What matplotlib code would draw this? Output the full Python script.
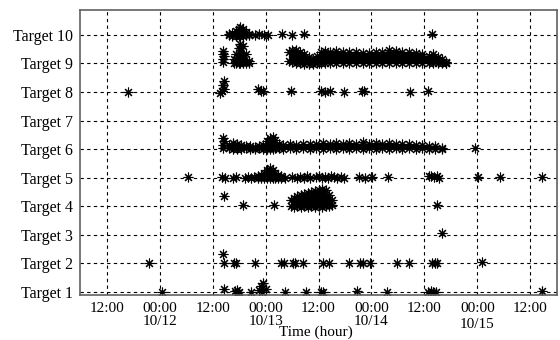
import matplotlib
matplotlib.use("Agg")
import matplotlib.pyplot as plt

plt.rcParams['font.family'] = ['Liberation Serif', 'DejaVu Serif']

# hours counted from 00:00 on 10/12
target_labels = [f"Target {i}" for i in range(1, 11)]
tick_hours = [-12, 0, 12, 24, 36, 48, 60, 72, 84]
tick_labels = ["12:00", "00:00\n10/12", "12:00", "00:00\n10/13", "12:00",
               "00:00\n10/14", "12:00", "00:00\n10/15", "12:00"]

# single detections (hour, plotted level)
t10_hours = [21.7, 22.6, 23.6, 24.5, 27.8, 29.9, 32.6, 61.8]
t10_levels = [10.0, 10.02, 10.0, 10.0, 10.02, 10.0, 10.02, 10.05]
t9_hours = [14.4, 14.3, 14.5, 14.4, 14.3, 61.8, 62.6, 64.8]
t9_levels = [9.05, 9.15, 9.25, 9.35, 9.45, 9.2, 9.1, 9.02]
t8_hours = [-7.2, 13.6, 14.2, 14.6, 14.3, 14.5, 22.2, 23.0, 23.5, 29.7, 36.5,
            37.4, 38.7, 41.7, 45.9, 46.4, 56.8, 60.9]
t8_levels = [8.0, 7.98, 8.05, 8.1, 8.25, 8.38, 8.1, 8.05, 8.02, 8.02, 8.02,
             8.0, 8.02, 8.0, 8.02, 8.02, 8.0, 8.05]
t6_hours = [14.4, 14.3, 14.5, 14.4, 71.5]
t6_levels = [6.05, 6.15, 6.28, 6.38, 6.05]
t5_hours = [6.3, 14.1, 14.7, 16.5, 17.2, 19.3, 20.0, 20.7, 21.4, 28.5, 29.9,
            31.2, 31.9, 32.6, 33.3, 34.0, 35.4, 36.1, 36.8, 37.5, 38.2, 38.9,
            39.6, 40.3, 41.0, 41.7, 45.1, 46.6, 48.2, 51.8, 61.0, 61.6, 62.2,
            62.8, 63.4, 72.2, 77.2, 86.7]
t5_levels = [5.02, 5.02, 5.0, 5.0, 5.02, 5.0, 5.02, 5.0, 5.02, 5.0, 5.02,
             5.0, 5.03, 5.0, 5.04, 5.0, 5.02, 5.04, 5.0, 5.03, 5.0, 5.04,
             5.02, 5.0, 5.03, 5.0, 5.02, 5.0, 5.02, 5.02, 5.04, 5.06, 5.02,
             5.04, 5.0, 5.02, 5.02, 5.02]
t4_hours = [14.5, 18.8, 26.0, 62.9]
t4_levels = [4.35, 4.05, 4.05, 4.05]
t3_hours = [64.1]
t3_levels = [3.05]
t2_hours = [-2.5, 14.4, 14.5, 16.8, 17.3, 21.5, 27.6, 28.1, 30.1, 30.6, 32.4,
            36.9, 38.3, 42.8, 45.5, 46.0, 47.7, 53.9, 56.4, 61.8, 62.3, 62.9,
            73.1]
t2_levels = [2.0, 2.32, 2.02, 2.0, 2.0, 2.02, 2.0, 2.02, 2.0, 2.02, 2.02,
             2.02, 2.0, 2.02, 2.0, 2.02, 2.0, 2.02, 2.0, 2.0, 2.02, 2.0, 2.03]
t1_hours = [0.5, 14.5, 17.0, 17.5, 18.0, 17.6, 20.6, 22.4, 23.0, 23.5, 24.0,
            23.2, 28.3, 33.2, 36.6, 37.1, 44.7, 51.6, 60.9, 61.5, 62.0, 62.7,
            86.7]
t1_levels = [1.0, 1.1, 1.02, 1.06, 1.0, 0.97, 1.0, 1.05, 1.2, 1.3, 1.1, 1.0,
             1.0, 1.0, 1.0, 1.0, 1.02, 1.0, 1.0, 1.02, 1.0, 1.0, 1.02]

# dense clusters: hours, upper level, lower level
b10_hours = [15.6, 16.4, 17.2, 17.9, 18.3, 18.8, 19.5, 20.2]
b10_top = [10.05, 10.08, 10.15, 10.22, 10.27, 10.2, 10.1, 10.05]
b10_bot = [10.0, 9.98, 9.98, 9.98, 9.98, 9.98, 10.0, 10.0]

b9a_hours = [16.8, 17.3, 17.9, 18.3, 18.8, 19.5, 20.2]
b9a_top = [9.15, 9.35, 9.55, 9.7, 9.6, 9.35, 9.1]
b9a_bot = [9.02, 9.02, 9.0, 9.0, 9.0, 9.02, 9.02]

b9_hours = [29.2, 29.9, 30.8, 31.9, 32.8, 33.8, 34.8, 35.7, 36.5, 37.5, 38.7,
            40.0, 41.5, 43.0, 44.5, 46.0, 47.5, 49.0, 50.5, 52.0, 53.5, 55.0,
            56.5, 58.0, 59.5, 61.0, 62.0, 63.0, 64.0, 64.8]
b9_top = [9.4, 9.48, 9.46, 9.4, 9.33, 9.22, 9.16, 9.26, 9.41, 9.44, 9.41,
          9.43, 9.4, 9.42, 9.39, 9.36, 9.36, 9.39, 9.42, 9.46, 9.44, 9.39,
          9.41, 9.36, 9.32, 9.28, 9.34, 9.24, 9.14, 9.05]
b9_bot = [9.1, 9.05, 9.02, 9.0, 8.98, 8.98, 8.98, 9.0, 9.0, 9.02, 9.0,
          9.0, 9.02, 9.0, 9.0, 9.02, 9.0, 9.0, 9.02, 9.0, 9.02, 9.0,
          9.02, 9.0, 9.0, 9.02, 9.0, 9.0, 9.0, 9.0]

b6_hours = [15.6, 16.5, 17.5, 18.5, 19.5, 20.5, 21.5, 22.5, 23.5, 24.3, 25.0,
            25.6, 26.2, 27.0, 28.0, 29.5, 31.0, 32.5, 34.0, 35.5, 37.0, 38.5,
            40.0, 41.5, 43.0, 44.5, 46.0, 47.5, 49.0, 50.5, 52.0, 53.5, 55.0,
            56.5, 58.0, 59.5, 61.0, 62.5, 64.1]
b6_top = [6.14, 6.2, 6.17, 6.14, 6.12, 6.1, 6.08, 6.1, 6.14, 6.27, 6.4,
          6.44, 6.32, 6.17, 6.15, 6.18, 6.15, 6.18, 6.19, 6.17, 6.21, 6.18,
          6.21, 6.18, 6.2, 6.17, 6.25, 6.19, 6.21, 6.18, 6.2, 6.17, 6.19,
          6.17, 6.15, 6.13, 6.12, 6.1, 6.05]
b6_bot = [6.02, 6.0, 6.0, 6.0, 6.02, 6.0, 6.0, 6.02, 6.0, 6.0, 6.0,
          6.0, 6.02, 6.02, 6.0, 6.02, 6.0, 6.02, 6.0, 6.02, 6.0, 6.02,
          6.0, 6.02, 6.0, 6.02, 6.0, 6.02, 6.0, 6.02, 6.0, 6.02, 6.0,
          6.02, 6.0, 6.02, 6.0, 6.0, 6.0]

b5_hours = [22.2, 23.0, 23.7, 24.4, 25.0, 25.6, 26.2, 26.9, 27.6]
b5_top = [5.05, 5.1, 5.15, 5.25, 5.32, 5.25, 5.15, 5.08, 5.05]
b5_bot = [5.0, 4.98, 4.98, 4.98, 4.98, 4.98, 4.98, 5.0, 5.0]

b4_hours = [29.7, 30.4, 31.2, 32.0, 32.8, 33.6, 34.4, 35.2, 36.0, 36.8, 37.6,
            38.4, 39.1]
b4_top = [4.2, 4.3, 4.35, 4.38, 4.42, 4.45, 4.48, 4.52, 4.58, 4.6, 4.55,
          4.4, 4.2]
b4_bot = [4.0, 3.98, 4.0, 3.98, 4.0, 3.98, 4.0, 3.98, 4.0, 3.98, 4.0,
          4.02, 4.05]

singles = [(t10_hours, t10_levels), (t9_hours, t9_levels), (t8_hours, t8_levels),
           (t6_hours, t6_levels), (t5_hours, t5_levels), (t4_hours, t4_levels),
           (t3_hours, t3_levels), (t2_hours, t2_levels), (t1_hours, t1_levels)]
bands = [(b10_hours, b10_top, b10_bot), (b9a_hours, b9a_top, b9a_bot),
         (b9_hours, b9_top, b9_bot), (b6_hours, b6_top, b6_bot),
         (b5_hours, b5_top, b5_bot), (b4_hours, b4_top, b4_bot)]

STAR = dict(linestyle='none', marker=(8, 2, 0), ms=7, mew=0.8, color='k')

fig = plt.figure(figsize=(5.6, 3.4), dpi=100)
ax = fig.add_axes([0.143, 0.132, 0.852, 0.839])

for hrs, lv in singles:
    ax.plot(hrs, lv, **STAR)
for hrs, top, bot in bands:
    ax.fill_between(hrs, bot, top, color='k', lw=0)
    ax.plot(hrs, top, **STAR)
    ax.plot(hrs, bot, **STAR)

ax.set_xlim(-18.05, 90.1)
ax.set_ylim(0.88, 10.88)
ax.set_yticks(range(1, 11))
ax.set_yticklabels(target_labels, fontsize=11.5)
ax.set_xticks(tick_hours)
ax.set_xticklabels(tick_labels, fontsize=11, linespacing=0.95)
ax.get_xticklabels()[7].set_linespacing(1.3)
ax.tick_params(length=0, pad=5)
ax.grid(True, ls=(0, (3, 3)), color='k', lw=0.8)
for s in ax.spines.values():
    s.set_color('#606060')
    s.set_linewidth(1.2)

fig.text(0.564, 0.002, "Time (hour)", ha='center', va='bottom', fontsize=11)

fig.savefig("out.png", dpi=100, facecolor='white')
